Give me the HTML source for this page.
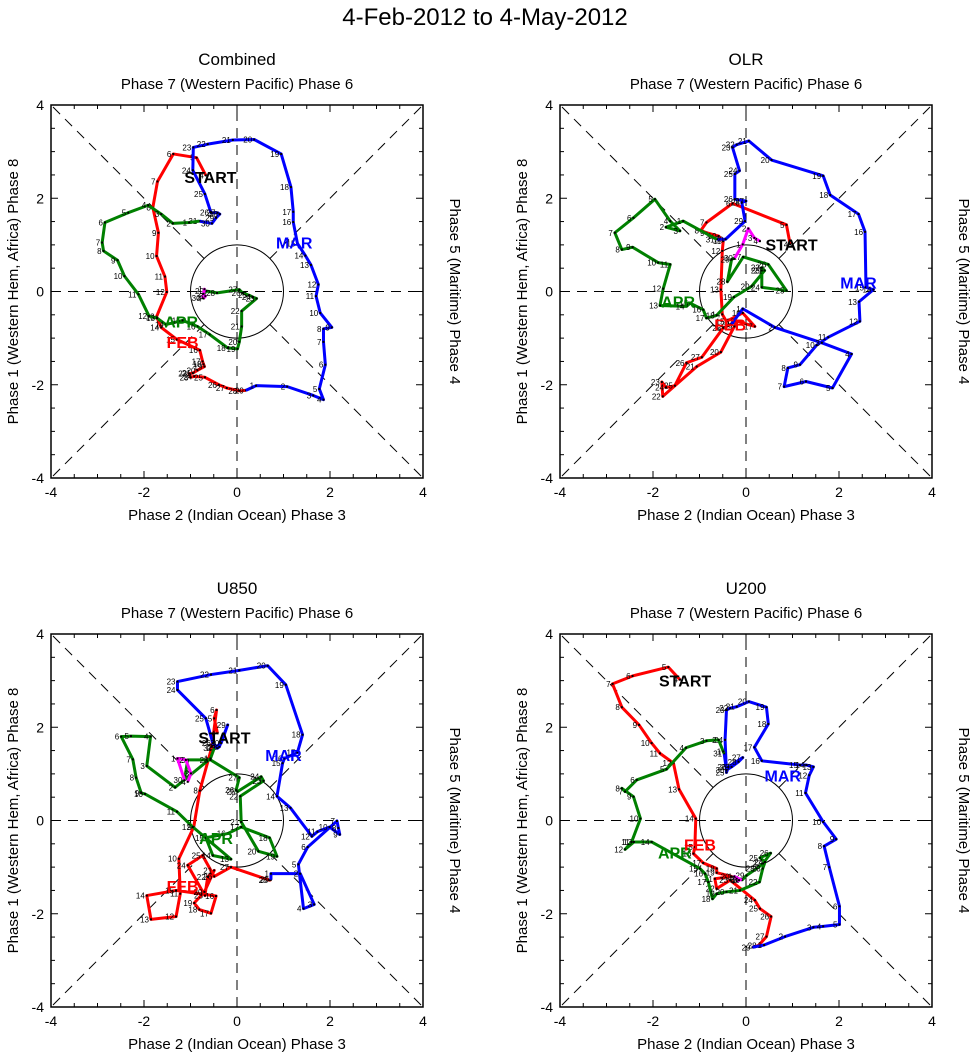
<!DOCTYPE html>
<html><head><meta charset="utf-8"><style>
body{margin:0;background:#fff}
svg text{font-family:"Liberation Sans",sans-serif}
</style></head><body>
<svg id="chart" width="971" height="1059" viewBox="0 0 971 1059" xmlns="http://www.w3.org/2000/svg">
<text x="485" y="25" font-size="24" text-anchor="middle">4-Feb-2012 to 4-May-2012</text>
</svg>
<script>
// Combined
const combinedFebX=[-0.67,-0.87,-1.37,-1.71,-1.81,-1.69,-1.73,-1.55,-1.51,-1.73,-1.63,-1.29,-0.80,-0.74,-0.72,-0.70,-0.85,-0.95,-1.03,-1.00,-0.92,-0.69,-0.39,-0.22,0.05,0.19];
const combinedFebY=[2.49,2.87,2.95,2.36,1.80,1.26,0.76,0.32,-0.01,-0.54,-0.77,-1.03,-1.26,-1.50,-1.56,-1.61,-1.69,-1.75,-1.76,-1.84,-1.82,-1.84,-2.00,-2.07,-2.13,-2.12];
const combinedMarX=[0.41,1.08,1.64,1.86,1.77,1.90,1.86,1.86,2.04,1.79,1.70,1.75,1.59,1.47,1.30,1.21,1.21,1.16,0.95,0.37,-0.09,-0.63,-0.94,-0.95,-0.69,-0.56,-0.42,-0.37,-0.45,-0.54,-0.81];
const combinedMarY=[-2.02,-2.04,-2.23,-2.32,-2.09,-1.57,-1.08,-0.80,-0.77,-0.46,-0.10,0.15,0.57,0.77,1.03,1.49,1.71,2.24,2.95,3.26,3.25,3.16,3.09,2.60,2.09,1.69,1.69,1.66,1.58,1.46,1.51];
const combinedAprX=[-1.03,-1.38,-1.63,-1.91,-2.34,-2.84,-2.90,-2.87,-2.57,-2.42,-2.12,-1.89,-1.72,-1.53,-1.17,-0.85,-0.59,-0.20,0.01,0.05,0.10,0.10,0.42,0.34,0.26,0.12,0.05,-0.43,-0.67,-0.74];
const combinedAprY=[1.48,1.46,1.66,1.85,1.69,1.48,1.05,0.87,0.67,0.33,-0.06,-0.53,-0.57,-0.71,-0.62,-0.75,-0.92,-1.21,-1.23,-1.08,-0.75,-0.42,-0.15,-0.12,-0.08,-0.03,0.04,-0.03,0.01,-0.14];
const combinedMayX=[-0.70,-0.72,-0.68,-0.72];
const combinedMayY=[0.05,-0.05,-0.10,-0.15];
// OLR
const olrFebX=[0.95,0.87,-0.29,-0.85,-0.97,-0.85,-0.59,-0.49,-0.51,-0.54,-0.51,-0.42,-0.07,0.19,-0.20,-0.25,-0.54,-1.06,-1.79,-1.81,-1.72,-1.53,-1.28,-0.95,-0.49,-0.31];
const olrFebY=[1.01,1.43,1.89,1.48,1.31,1.26,1.19,1.08,0.87,0.04,-0.49,-0.64,-0.46,-0.75,-0.64,-0.75,-1.30,-1.61,-2.25,-1.94,-2.06,-2.02,-1.53,-1.41,-0.78,-0.70];
const olrMarX=[-0.07,0.62,1.63,2.27,1.86,1.29,0.82,0.90,1.16,1.52,1.77,2.45,2.43,2.74,2.58,2.56,2.42,1.81,1.66,0.55,0.06,-0.20,-0.29,-0.14,-0.24,-0.24,0.00,-0.09,-0.02,-0.44,-0.63];
const olrMarY=[-0.37,-0.77,-1.10,-1.34,-2.07,-1.93,-2.04,-1.64,-1.57,-1.15,-0.98,-0.64,-0.22,0.04,0.09,1.28,1.66,2.07,2.48,2.82,3.23,3.15,3.09,2.59,2.52,1.98,1.94,1.91,1.51,1.12,1.12];
const olrAprX=[-1.35,-1.72,-1.42,-1.63,-1.96,-2.42,-2.82,-2.67,-2.44,-1.89,-1.63,-1.78,-1.85,-1.28,-1.20,-0.92,-0.85,-0.63,-0.26,0.12,0.40,0.34,0.34,0.34,0.87,0.48,-0.06,-0.40,-0.31,-0.24];
const olrAprY=[1.51,1.38,1.30,1.51,1.98,1.58,1.26,0.90,0.95,0.62,0.58,0.06,-0.30,-0.32,-0.25,-0.39,-0.57,-0.51,-0.12,0.11,0.45,0.51,0.45,0.09,0.02,0.58,0.74,0.21,0.69,0.72];
const olrMayX=[-0.07,0.05,0.18,0.30];
const olrMayY=[1.01,1.35,1.15,1.08];
// U850
const u850FebX=[-0.42,-0.49,-0.44,-0.54,-0.80,-0.93,-1.25,-1.22,-1.31,-1.85,-1.94,-1.31,-0.45,-0.56,-0.81,-0.92,-0.70,-0.49,-0.63,-0.69,-1.06,-0.74,-0.49,-0.13,0.70,0.73];
const u850FebY=[1.87,2.19,2.37,1.58,0.64,-0.14,-0.82,-1.57,-2.06,-2.12,-1.61,-1.50,-1.62,-1.99,-1.91,-1.77,-1.53,-1.07,-1.21,-1.61,-0.96,-0.75,-1.20,-1.00,-1.28,-1.27];
const u850MarX=[0.73,1.36,1.66,1.43,1.32,1.52,2.15,2.18,2.21,1.99,1.73,1.61,1.15,0.86,0.98,1.02,1.30,1.41,1.05,0.66,0.05,-0.56,-1.28,-1.28,-0.67,-0.52,-0.42,-0.38,-0.20,-0.34,-0.49];
const u850MarY=[-1.14,-1.14,-1.80,-1.89,-0.94,-0.57,-0.01,-0.16,-0.30,-0.14,-0.24,-0.34,0.27,0.52,1.23,1.33,1.46,1.84,2.91,3.32,3.22,3.13,2.98,2.80,2.19,1.66,1.55,1.58,2.05,1.66,1.55];
const u850AprX=[-0.57,-1.33,-1.94,-1.86,-2.28,-2.49,-2.24,-2.17,-2.06,-1.98,-1.29,-0.95,-0.13,-0.52,-0.67,-0.20,0.09,0.70,0.86,0.46,0.09,0.07,0.57,0.52,0.01,-0.02,0.05,-0.57,-1.06,-1.13];
const u850AprY=[1.33,0.71,1.17,1.80,1.81,1.80,1.31,0.92,0.59,0.57,0.19,-0.14,-0.83,-0.75,-0.37,-0.28,-0.14,-0.37,-0.77,-0.66,-0.03,0.52,0.85,0.94,0.62,0.65,0.92,1.30,1.30,0.87];
const u850MayX=[-1.28,-1.10,-0.99,-1.06];
const u850MayY=[1.33,1.30,1.01,0.83];
// U200
const u200FebX=[-1.42,-1.67,-2.44,-2.87,-2.67,-2.30,-2.03,-1.85,-1.56,-1.44,-1.08,-1.10,-1.13,-0.92,-0.63,-0.63,-0.31,-0.67,-0.63,-0.34,0.19,0.30,0.54,0.44,0.27,0.14];
const u200FebY=[3.02,3.29,3.10,2.93,2.43,2.05,1.66,1.44,1.23,0.67,0.04,-0.57,-0.71,-0.91,-1.03,-1.12,-1.20,-1.25,-1.46,-1.28,-1.71,-1.89,-2.06,-2.49,-2.68,-2.72];
const u200MarX=[0.39,0.84,1.45,1.66,2.01,2.01,1.79,1.68,1.94,1.66,1.28,1.36,1.45,1.30,1.16,0.34,0.18,0.48,0.44,0.06,-0.20,-0.34,-0.42,-0.45,-0.42,-0.38,-0.07,-0.16,-0.31,-0.42,-0.47];
const u200MarY=[-2.67,-2.49,-2.29,-2.27,-2.23,-1.84,-1.00,-0.55,-0.40,-0.03,0.59,0.97,1.15,1.19,1.19,1.28,1.57,2.07,2.43,2.55,2.44,2.41,2.37,1.73,1.03,1.15,1.35,1.26,1.15,1.08,1.44];
const u200AprX=[-0.49,-0.59,-0.85,-1.29,-1.71,-2.35,-2.60,-2.67,-2.42,-2.27,-2.46,-2.60,-2.41,-2.03,-0.99,-0.88,-0.81,-0.72,-0.63,-0.42,-0.13,0.29,0.36,0.41,0.30,0.53,0.37,0.23,0.01,-0.09];
const u200AprY=[1.48,1.73,1.71,1.56,1.10,0.87,0.62,0.69,0.51,0.04,-0.46,-0.62,-0.46,-0.46,-1.03,-1.14,-1.32,-1.68,-1.57,-1.53,-1.50,-1.32,-1.03,-0.89,-0.80,-0.70,-0.92,-1.03,-1.18,-1.28];
const u200MayX=[-0.25,-0.20,-0.15,-0.20];
const u200MayY=[-1.20,-1.25,-1.28,-1.30];

const tickValues=[-4,-2,0,2,4];
const febDays=[4,5,6,7,8,9,10,11,12,13,14,15,16,17,18,19,20,21,22,23,24,25,26,27,28,29];

const NS="http://www.w3.org/2000/svg";
const svg=document.getElementById('chart');
function mk(tag,attrs,parent){const e=document.createElementNS(NS,tag);for(const k in attrs)e.setAttribute(k,attrs[k]);(parent||svg).appendChild(e);return e;}

const panels=[
 {name:'combined',title:'Combined',x0:51,y0:105,months:[[combinedFebX,combinedFebY],[combinedMarX,combinedMarY],[combinedAprX,combinedAprY],[combinedMayX,combinedMayY]],
  labels:{START:[-0.57,2.46],MAR:[1.23,1.05],APR:[-1.20,-0.64],FEB:[-1.17,-1.08]}},
 {name:'olr',title:'OLR',x0:560,y0:105,months:[[olrFebX,olrFebY],[olrMarX,olrMarY],[olrAprX,olrAprY],[olrMayX,olrMayY]],
  labels:{START:[0.98,1.01],MAR:[2.42,0.19],APR:[-1.46,-0.21],FEB:[-0.34,-0.71]}},
 {name:'u850',title:'U850',x0:51,y0:634,months:[[u850FebX,u850FebY],[u850MarX,u850MarY],[u850AprX,u850AprY],[u850MayX,u850MayY]],
  labels:{START:[-0.27,1.78],MAR:[1.00,1.41],APR:[-0.45,-0.37],FEB:[-1.17,-1.41]}},
 {name:'u200',title:'U200',x0:560,y0:634,months:[[u200FebX,u200FebY],[u200MarX,u200MarY],[u200AprX,u200AprY],[u200MayX,u200MayY]],
  labels:{START:[-1.31,3.00],MAR:[0.79,0.97],APR:[-1.53,-0.69],FEB:[-0.99,-0.51]}}
];
const colors=['#ff0000','#0000ff','#008000','#ff00ff'];
const monthNames=['feb','mar','apr','may'];
const labelColors={START:'#000',MAR:'#0000ff',APR:'#008000',FEB:'#ff0000'};

panels.forEach(p=>{
 const W=372,H=373;
 const sx=v=>p.x0+(v+4)/8*W;
 const sy=v=>p.y0+(4-v)/8*H;
 const g=mk('g',{});
 
 
 const cx=sx(0),cy=sy(0);
 const t=mk('text',{x:cx,y:p.y0-40,'font-size':17,'text-anchor':'middle'},g);t.textContent=p.title;
 
 const st=mk('text',{x:cx,y:p.y0-16,'font-size':15,'text-anchor':'middle'},g);st.textContent='Phase 7 (Western Pacific) Phase 6';
 
 const xt=mk('text',{x:cx,y:p.y0+H+42,'font-size':15,'text-anchor':'middle'},g);xt.textContent='Phase 2 (Indian Ocean) Phase 3';
 
 const lx=p.x0-33;
 const yl=mk('text',{x:lx,y:cy,'font-size':15,'text-anchor':'middle',transform:`rotate(-90 ${lx} ${cy})`},g);yl.textContent='Phase 1 (Western Hem, Africa) Phase 8';
 
 const rx=p.x0+W+27;
 const yr=mk('text',{x:rx,y:cy,'font-size':15,'text-anchor':'middle',transform:`rotate(90 ${rx} ${cy})`},g);yr.textContent='Phase 5 (Maritime) Phase 4';
 
 // dashed lines
 const dash={stroke:'#000','stroke-width':1,'stroke-dasharray':'10,7',fill:'none'};
 mk('line',Object.assign({x1:sx(-4),y1:cy,x2:sx(4),y2:cy},dash),g);
 mk('line',Object.assign({x1:cx,y1:sy(-4),x2:cx,y2:sy(4)},dash),g);
 const r=0.7071;
 [[1,1],[1,-1],[-1,1],[-1,-1]].forEach(([a,b])=>{
  mk('line',Object.assign({x1:sx(a*r),y1:sy(b*r),x2:sx(a*4),y2:sy(b*4)},dash),g);
 });
 mk('ellipse',{cx:cx,cy:cy,rx:W/8,ry:H/8,fill:'none',stroke:'#000','stroke-width':1},g);
 // frame and ticks
 mk('rect',{x:p.x0,y:p.y0,width:W,height:H,fill:'none',stroke:'#000','stroke-width':1.5},g);
 for(let v=-4;v<=4.001;v+=0.5){
  const major=Math.abs(v%2)<0.01;const L=major?7:4;
  mk('line',{x1:sx(v),y1:p.y0+H,x2:sx(v),y2:p.y0+H-L,stroke:'#000','stroke-width':1},g);
  mk('line',{x1:sx(v),y1:p.y0,x2:sx(v),y2:p.y0+L,stroke:'#000','stroke-width':1},g);
  mk('line',{x1:p.x0,y1:sy(v),x2:p.x0+L,y2:sy(v),stroke:'#000','stroke-width':1},g);
  mk('line',{x1:p.x0+W,y1:sy(v),x2:p.x0+W-L,y2:sy(v),stroke:'#000','stroke-width':1},g);
 }
 tickValues.forEach(v=>{
  const a=mk('text',{x:sx(v),y:p.y0+H+19,'font-size':14,'text-anchor':'middle'},g);a.textContent=v;
  
  const b=mk('text',{x:p.x0-7,y:sy(v)+5,'font-size':14,'text-anchor':'end'},g);b.textContent=v;
  
 });
 // traces
 let prev=null;
 p.months.forEach(([X,Y],mi)=>{
  const pts=[];if(prev)pts.push(prev);
  X.forEach((v,i)=>pts.push([sx(v),sy(Y[i])]));
  const pl=mk('polyline',{points:pts.map(q=>q.join(',')).join(' '),fill:'none',stroke:colors[mi],'stroke-width':3,'stroke-linejoin':'round'},g);
  
  
  X.forEach((v,i)=>{
   const px=sx(v),py=sy(Y[i]);
   const d=mk('rect',{x:px-1,y:py-1,width:2,height:2,fill:'#000'},g);
   
   
   const day=mi===0?febDays[i]:i+1;
   const tl=mk('text',{x:px-2,y:py+3,'font-size':8,'text-anchor':'end'},g);tl.textContent=day;
   
   
  });
  prev=[sx(X[X.length-1]),sy(Y[Y.length-1])];
 });
 for(const k in p.labels){
  const [lxv,lyv]=p.labels[k];
  const e=mk('text',{x:sx(lxv),y:sy(lyv)+6,'font-size':16,'font-weight':'bold','text-anchor':'middle',fill:labelColors[k]},g);
  e.textContent=k;
  
  
 }
});
</script>
</body></html>
